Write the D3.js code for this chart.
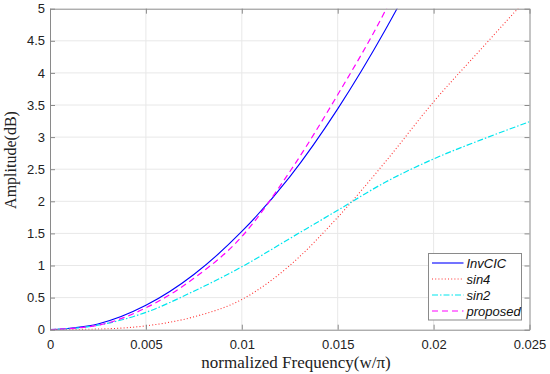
<!DOCTYPE html>
<html>
<head>
<meta charset="utf-8">
<script src="https://cdn.jsdelivr.net/npm/d3@7"></script>
<style>
  body { margin: 0; background: #fff; }
  svg { display: block; }
</style>
</head>
<body>
<svg width="550" height="374"></svg>
<script>
// frequencies (w/pi) at which values were read
const freq = [0, 0.0025, 0.005, 0.0075, 0.01, 0.0125, 0.015, 0.0175, 0.02, 0.0225, 0.025];

// series values (dB)
const invCIC   = [0, 0.09, 0.38, 0.86, 1.53, 2.38, 3.44, 4.68, 6.1, 7.7, 9.5];
const sin4     = [0, 0.01, 0.06, 0.2, 0.47, 1.0, 1.75, 2.62, 3.55, 4.38, 5.2];
const sin2     = [0, 0.07, 0.27, 0.6, 0.98, 1.42, 1.86, 2.3, 2.66, 2.96, 3.24];
const proposed = [0, 0.07, 0.34, 0.8, 1.45, 2.46, 3.66, 4.98, 6.6, 8.3, 10.2];

const xTicks = [0, 0.005, 0.01, 0.015, 0.02, 0.025];
const yTicks = [0, 0.5, 1, 1.5, 2, 2.5, 3, 3.5, 4, 4.5, 5];

const series = [
  { name: "InvCIC",   values: invCIC,   color: "#0000ff", dash: null,        width: 1.1 },
  { name: "sin4",     values: sin4,     color: "#ff3030", dash: "1,2.2",     width: 1.1 },
  { name: "sin2",     values: sin2,     color: "#00e5ee", dash: "6,2,1.5,2", width: 1.2 },
  { name: "proposed", values: proposed, color: "#ff00ff", dash: "6,4",       width: 1.2 }
];

const svg = d3.select("svg");
const margin = { left: 50, right: 20.5, top: 8.7, bottom: 44.3 };
const width = 550 - margin.left - margin.right,
  height = 374 - margin.top - margin.bottom;

const x = d3.scaleLinear().domain([0, 0.025]).range([0, width]);
const y = d3.scaleLinear().domain([0, 5]).range([height, 0]);

const g = svg.append("g").attr("transform", `translate(${margin.left},${margin.top})`);

// grid
g.append("g").selectAll("line").data(xTicks.slice(1, -1)).join("line")
  .attr("x1", d => x(d)).attr("x2", d => x(d)).attr("y1", 0).attr("y2", height)
  .attr("stroke", "#e8e8e8");
g.append("g").selectAll("line").data(yTicks.slice(1, -1)).join("line")
  .attr("y1", d => y(d)).attr("y2", d => y(d)).attr("x1", 0).attr("x2", width)
  .attr("stroke", "#e8e8e8");

// curves, clipped to the plot box
svg.append("defs").append("clipPath").attr("id", "clip")
  .append("rect").attr("width", width).attr("height", height);

const line = d3.line().curve(d3.curveMonotoneX)
  .x(d => x(d[0])).y(d => y(d[1]));

g.append("g").attr("clip-path", "url(#clip)")
  .selectAll("path").data(series).join("path")
  .attr("d", s => line(freq.map((f, i) => [f, s.values[i]])))
  .attr("fill", "none")
  .attr("stroke", s => s.color)
  .attr("stroke-width", s => s.width)
  .attr("stroke-dasharray", s => s.dash);

// axes (ticks pointing inward, box on)
const axisColor = "#8a8a8a";
const tickFmt = d => d3.format("")(d);

const xAxis = g.append("g").attr("transform", `translate(0,${height})`)
  .call(d3.axisBottom(x).tickValues(xTicks).tickSizeInner(-5).tickSizeOuter(0).tickPadding(10).tickFormat(tickFmt));
const xTop = g.append("g")
  .call(d3.axisTop(x).tickValues(xTicks).tickSizeInner(-5).tickSizeOuter(0).tickFormat(""));
const yAxis = g.append("g")
  .call(d3.axisLeft(y).tickValues(yTicks).tickSizeInner(-5).tickSizeOuter(0).tickPadding(5).tickFormat(tickFmt));
const yRight = g.append("g").attr("transform", `translate(${width},0)`)
  .call(d3.axisRight(y).tickValues(yTicks).tickSizeInner(-5).tickSizeOuter(0).tickFormat(""));

[xAxis, xTop, yAxis, yRight].forEach(a => {
  a.select(".domain").attr("stroke", axisColor);
  a.selectAll(".tick line").attr("stroke", axisColor);
  a.selectAll("text").attr("fill", "#222").style("font-family", "'Liberation Sans', Arial, sans-serif").style("font-size", "13px");
});

// axis labels
const serif = "'Palatino Linotype', 'Liberation Serif', 'DejaVu Serif', serif";
svg.append("text")
  .attr("x", 296).attr("y", 368)
  .attr("text-anchor", "middle")
  .style("font-family", serif)
  .style("font-size", "17px").attr("fill", "#222")
  .text("normalized Frequency(w/π)");

svg.append("text")
  .attr("transform", "translate(16,160) rotate(-90)")
  .attr("text-anchor", "middle")
  .style("font-family", serif)
  .style("font-size", "16px").attr("fill", "#222")
  .text("Amplitude(dB)");

// legend
const lg = svg.append("g").attr("transform", "translate(428.5,253.5)");
lg.append("rect").attr("width", 93).attr("height", 66.5)
  .attr("fill", "#fff").attr("stroke", axisColor);
const items = lg.selectAll("g").data(series).join("g")
  .attr("transform", (d, i) => `translate(0,${9.5 + i * 16})`);
items.append("line").attr("x1", 3.5).attr("x2", 35)
  .attr("stroke", d => d.color).attr("stroke-width", d => d.width)
  .attr("stroke-dasharray", d => d.dash);
items.append("text").attr("x", 38).attr("dy", "0.35em")
  .style("font-family", "'Liberation Sans', Arial, sans-serif")
  .style("font-size", "13px").style("font-style", "italic").attr("fill", "#111")
  .text(d => d.name);
</script>
</body>
</html>
